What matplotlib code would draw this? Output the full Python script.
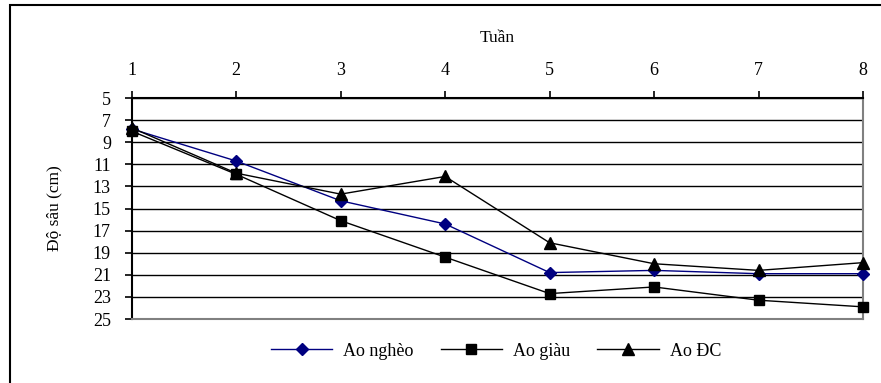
import matplotlib
matplotlib.use('Agg')
import matplotlib.pyplot as plt
from matplotlib.patches import Rectangle

# data
weeks = [1, 2, 3, 4, 5, 6, 7, 8]
ao_ngheo = [7.8, 10.7, 14.3, 16.4, 20.8, 20.6, 20.9, 20.9]
ao_giau = [8.0, 11.9, 16.1, 19.4, 22.7, 22.1, 23.3, 23.9]
ao_dc = [7.7, 11.8, 13.7, 12.1, 18.1, 20.0, 20.6, 19.9]
y_ticks = [5, 7, 9, 11, 13, 15, 17, 19, 21, 23, 25]

plt.rcParams['font.family'] = ['Liberation Serif', 'DejaVu Serif']

fig = plt.figure(figsize=(8.81, 3.83), dpi=100)
ax = fig.add_axes([0.1495, 0.1671, 0.9796 - 0.1495, 0.7441 - 0.1671])

# outer chart border (right and bottom edges fall outside the picture)
fig.patches.append(Rectangle((0.0114, -0.1), 1.2, 0.987 + 0.1,
                             transform=fig.transFigure, fill=False,
                             edgecolor='black', linewidth=1.5))

ax.plot(weeks, ao_ngheo, color='#000080', marker='D', markersize=6.5,
        linewidth=1, label='Ao nghèo', clip_on=False, zorder=4)
ax.plot(weeks, ao_giau, color='black', marker='s', markersize=7.5,
        linewidth=1, label='Ao giàu', clip_on=False, zorder=4)
ax.plot(weeks, ao_dc, color='black', marker='^', markersize=8.5,
        linewidth=1, label='Ao ĐC', clip_on=False, zorder=4)

ax.set_xlim(1, 8)
ax.set_ylim(25, 5)
ax.set_yticks(y_ticks)
ax.set_xticks(weeks)
ax.xaxis.tick_top()
ax.xaxis.set_label_position('top')
ax.set_xlabel('Tuần', fontsize=12.5, labelpad=14)
ax.set_ylabel('Độ sâu (cm)', fontsize=12.5, labelpad=22)
ax.tick_params(axis='both', labelsize=13, direction='out', length=5,
               width=1.2, color='black')
ax.tick_params(axis='x', pad=9)
ax.tick_params(axis='y', pad=10)

ax.grid(axis='y', color='black', linewidth=1)
ax.set_axisbelow(True)
for side in ['left', 'top']:
    ax.spines[side].set_color('black')
    ax.spines[side].set_linewidth(1.5)
for side in ['right', 'bottom']:
    ax.spines[side].set_color('#808080')
    ax.spines[side].set_linewidth(1.5)

ax.legend(loc='center', bbox_to_anchor=(0.563, 0.083),
          bbox_transform=fig.transFigure, ncol=3, frameon=False,
          fontsize=13, handlelength=3.4, columnspacing=1.5,
          handletextpad=0.6)

plt.savefig('out.png', dpi=100)
